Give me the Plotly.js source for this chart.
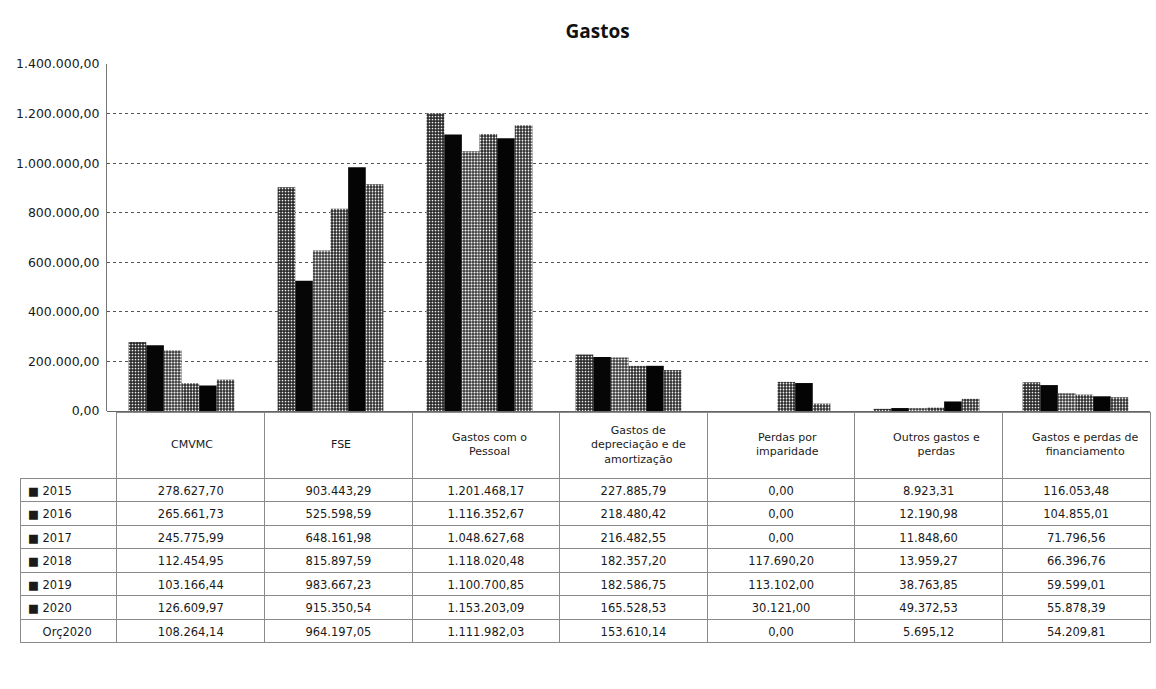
<!DOCTYPE html>
<html>
<head>
<meta charset="utf-8">
<script src="https://cdn.plot.ly/plotly-3.0.1.min.js"></script>
<style>html,body{margin:0;padding:0;background:#fff;}#chart{width:1156px;height:689px;}</style>
</head>
<body>
<div id="chart"></div>
<script>
// ---- data ----
const categories = ["CMVMC", "FSE", "Gastos com o Pessoal", "Gastos de depreciação e de amortização", "Perdas por imparidade", "Outros gastos e perdas", "Gastos e perdas de financiamento"];
const categoryLabels = ["CMVMC", "FSE", "Gastos com o<br>Pessoal", "Gastos de<br>depreciação e de<br>amortização", "Perdas por<br>imparidade", "Outros gastos e<br>perdas", "Gastos e perdas de<br>financiamento"];
const seriesNames = ["2015", "2016", "2017", "2018", "2019", "2020", "Orç2020"];
const v2015 = [278627.70, 903443.29, 1201468.17, 227885.79, 0.00, 8923.31, 116053.48];
const v2016 = [265661.73, 525598.59, 1116352.67, 218480.42, 0.00, 12190.98, 104855.01];
const v2017 = [245775.99, 648161.98, 1048627.68, 216482.55, 0.00, 11848.60, 71796.56];
const v2018 = [112454.95, 815897.59, 1118020.48, 182357.20, 117690.20, 13959.27, 66396.76];
const v2019 = [103166.44, 983667.23, 1100700.85, 182586.75, 113102.00, 38763.85, 59599.01];
const v2020 = [126609.97, 915350.54, 1153203.09, 165528.53, 30121.00, 49372.53, 55878.39];
const vOrc2020 = [108264.14, 964197.05, 1111982.03, 153610.14, 0.00, 5695.12, 54209.81];
const yTicks = [0, 200000, 400000, 600000, 800000, 1000000, 1200000, 1400000];

const allSeries = [v2015, v2016, v2017, v2018, v2019, v2020, vOrc2020];
const barSeries = 6; // Orç2020 only appears in the table

// ---- styles ----
const FONT = "DejaVu Sans, Verdana, sans-serif";
const barStyles = [
  {bg: "#2a2a2a", pat: ".", sol: 0.25},
  {bg: "#060606", pat: ""},
  {bg: "#333333", pat: ".", sol: 0.4},
  {bg: "#262626", pat: ".", sol: 0.3},
  {bg: "#040404", pat: ""},
  {bg: "#2c2c2c", pat: ".", sol: 0.28}
];
const hasKey = [true, true, true, true, true, true, false];

function fmt(n) {
  const parts = n.toFixed(2).split(".");
  const intPart = parts[0].replace(/\B(?=(\d{3})+(?!\d))/g, ".");
  return intPart + "," + parts[1];
}

const traces = [];
for (let s = 0; s < barSeries; s++) {
  const st = barStyles[s];
  const marker = {color: st.bg, line: {width: 0}};
  if (st.pat) {
    marker.pattern = {shape: st.pat, fillmode: "replace", bgcolor: st.bg, fgcolor: "#ffffff", size: 3, solidity: st.sol};
  }
  traces.push({
    type: "bar", name: seriesNames[s], x: categories, y: allSeries[s],
    marker: marker, hoverinfo: "x+y+name"
  });
}

// table
const rowLabels = seriesNames.map((n, i) => hasKey[i]
  ? "■\u00a0" + n
  : "\u00a0\u00a0\u00a0\u00a0" + n);
const tableColumns = [rowLabels];
for (let c = 0; c < categories.length; c++) {
  tableColumns.push(allSeries.map(s => fmt(s[c])));
}
const colW = [97].concat(categories.map(() => 147.6));
const lineCols = ["rgba(0,0,0,0)"].concat(categories.map(() => "#8a8a8a"));
traces.push({
  type: "table",
  domain: {x: [0, 1], y: [0, 0.3865]},
  columnwidth: colW,
  header: {
    values: [""].concat(categories.map(() => "")),
    height: 66,
    fill: {color: ["rgba(0,0,0,0)"].concat(categories.map(() => "#ffffff"))},
    line: {color: lineCols, width: 1}
  },
  cells: {
    values: tableColumns,
    height: 23.5,
    align: ["left"].concat(categories.map(() => "center")),
    font: {family: FONT, size: 11.5, color: "#1a1a1a"},
    fill: {color: "#ffffff"},
    line: {color: "#8a8a8a", width: 1}
  },
  hoverinfo: "skip"
});

const annotations = categoryLabels.map((lab, i) => ({
  x: categories[i], xref: "x", y: 0.335, yref: "paper",
  text: lab, showarrow: false, xanchor: "center", yanchor: "middle",
  xshift: 10, align: "center",
  font: {family: FONT, size: 11, color: "#1a1a1a"}
}));

const layout = {
  width: 1156, height: 689,
  margin: {l: 20, r: 6, t: 20, b: 30},
  paper_bgcolor: "#ffffff", plot_bgcolor: "#ffffff",
  separators: ",.",
  showlegend: false,
  barmode: "group",
  bargap: 0.29, bargroupgap: 0,
  title: {text: "<b>Gastos</b>", x: 0.517, xanchor: "center", y: 0.955, yanchor: "middle",
          font: {family: "Open Sans, sans-serif", size: 19, color: "#111"}},
  xaxis: {domain: [0.077, 1], showticklabels: false, ticks: "", showgrid: false, zeroline: false, showline: false},
  yaxis: {domain: [0.388, 0.931], range: [0, 1400000], tickvals: yTicks, tickformat: ",.2f",
          showgrid: true, gridcolor: "#555", griddash: "dot", gridwidth: 1,
          showline: true, linecolor: "#777", linewidth: 1, zeroline: true, zerolinecolor: "#666", zerolinewidth: 1,
          ticks: "", ticklabelstandoff: 4,
          tickfont: {family: FONT, size: 12.5, color: "#1a1a1a"}},
  annotations: annotations
};

Plotly.newPlot("chart", traces, layout, {displayModeBar: false, staticPlot: true});
</script>
</body>
</html>
